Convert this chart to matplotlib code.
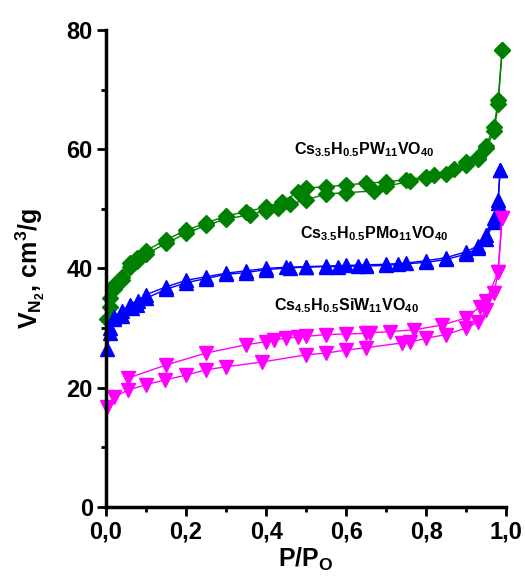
import numpy as np
import matplotlib
matplotlib.use('Agg')
import matplotlib.pyplot as plt
from matplotlib.ticker import MultipleLocator, FuncFormatter

plt.rcParams['font.family'] = ['Liberation Sans', 'DejaVu Sans']
plt.rcParams['font.weight'] = 'bold'
plt.rcParams['mathtext.fontset'] = 'custom'
plt.rcParams['mathtext.rm'] = 'Liberation Sans:bold'
plt.rcParams['mathtext.bf'] = 'Liberation Sans:bold'
plt.rcParams['mathtext.it'] = 'Liberation Sans:bold'
plt.rcParams['mathtext.default'] = 'bf'

# --------------------------------------------------------------------
#                       DATA
# --------------------------------------------------------------------

# Cs3.5H0.5PW11VO40 (green)
pw_ads_x = [0.003, 0.01, 0.02, 0.04, 0.06, 0.077, 0.10, 0.15, 0.20, 0.25, 0.30, 0.36, 0.40,
            0.43, 0.46, 0.50, 0.55, 0.60, 0.67, 0.70, 0.76, 0.80, 0.85, 0.90, 0.93, 0.95,
            0.97, 0.98, 0.99]
pw_ads_y = [31.5, 33.5, 36.5, 38.0, 40.2, 41.2, 42.4, 44.2, 45.9, 47.2, 48.3, 49.0, 49.7,
            50.2, 50.8, 51.5, 52.5, 52.7, 53.0, 53.8, 54.6, 55.2, 55.8, 57.3, 58.3, 60.2,
            63.0, 67.5, 76.6]
pw_des_x = [0.99, 0.98, 0.97, 0.95, 0.93, 0.90, 0.87, 0.82, 0.80, 0.75, 0.70, 0.65, 0.60,
            0.55, 0.50, 0.48, 0.44, 0.40, 0.35, 0.30, 0.25, 0.20, 0.15, 0.10, 0.077, 0.06,
            0.04, 0.02, 0.01]
pw_des_y = [76.6, 68.2, 63.8, 60.6, 58.7, 57.8, 56.6, 55.7, 55.3, 54.9, 54.5, 54.3, 54.0,
            53.7, 53.5, 52.8, 51.2, 50.3, 49.5, 48.8, 47.6, 46.4, 44.8, 43.0, 41.7, 40.9,
            38.5, 37.2, 35.0]

# Cs3.5H0.5PMo11VO40 (blue)
pmo_ads_x = [0.003, 0.01, 0.02, 0.04, 0.065, 0.077, 0.10, 0.15, 0.20, 0.25, 0.30, 0.35,
             0.40, 0.46, 0.50, 0.55, 0.58, 0.63, 0.65, 0.70, 0.73, 0.80, 0.85, 0.90, 0.93,
             0.95, 0.97, 0.98, 0.985]
pmo_ads_y = [26.5, 29.2, 31.5, 32.0, 33.3, 33.9, 35.0, 36.5, 37.6, 38.3, 39.0, 39.3,
             39.8, 40.1, 40.2, 40.3, 40.3, 40.4, 40.4, 40.5, 40.7, 41.0, 41.5, 42.4, 43.4,
             45.0, 47.8, 51.0, 56.5]
pmo_des_x = [0.985, 0.98, 0.97, 0.95, 0.93, 0.90, 0.85, 0.80, 0.75, 0.70, 0.65, 0.60,
             0.55, 0.50, 0.45, 0.40, 0.35, 0.30, 0.25, 0.20, 0.15, 0.10, 0.08, 0.06,
             0.04, 0.02, 0.01]
pmo_des_y = [56.5, 51.5, 48.5, 45.6, 43.8, 42.8, 41.8, 41.3, 40.9, 40.7, 40.6, 40.5,
             40.4, 40.3, 40.2, 40.0, 39.6, 39.2, 38.6, 38.0, 36.9, 35.6, 34.6, 33.9,
             32.8, 31.9, 30.0]

# Cs4.5H0.5SiW11VO40 (magenta)
siw_ads_x = [0.003, 0.02, 0.055, 0.10, 0.148, 0.20, 0.25, 0.30, 0.39, 0.50, 0.55, 0.60,
             0.65, 0.74, 0.76, 0.80, 0.85, 0.90, 0.93, 0.95, 0.97, 0.98, 0.99]
siw_ads_y = [16.8, 18.4, 19.6, 20.5, 21.3, 22.1, 23.0, 23.5, 24.3, 25.5, 25.8, 26.3,
             26.7, 27.5, 27.6, 28.3, 28.9, 30.0, 31.0, 33.0, 35.9, 39.4, 48.5]
siw_des_x = [0.99, 0.98, 0.95, 0.935, 0.90, 0.84, 0.77, 0.71, 0.66, 0.65, 0.60, 0.55,
             0.50, 0.48, 0.45, 0.42, 0.40, 0.35, 0.25, 0.15, 0.055]
siw_des_y = [48.5, 39.4, 34.5, 33.6, 31.7, 30.5, 29.7, 29.4, 29.2, 29.1, 29.0, 28.9,
             28.6, 28.5, 28.3, 28.0, 27.7, 27.2, 25.8, 23.8, 21.6]

labels = [r'Cs$_{3.5}$H$_{0.5}$PW$_{11}$VO$_{40}$',
          r'Cs$_{3.5}$H$_{0.5}$PMo$_{11}$VO$_{40}$',
          r'Cs$_{4.5}$H$_{0.5}$SiW$_{11}$VO$_{40}$']
label_pos = [(0.645, 59.9), (0.67, 45.8), (0.60, 33.7)]

# --------------------------------------------------------------------
#                       PLOT
# --------------------------------------------------------------------

fig = plt.figure(figsize=(5.25, 5.76), dpi=100)
ax = fig.add_axes([0.202, 0.12, 0.762, 0.828])

series = [
    (pw_ads_x, pw_ads_y, pw_des_x, pw_des_y, '#008000', 'D', 8.5),
    (pmo_ads_x, pmo_ads_y, pmo_des_x, pmo_des_y, '#0000ff', '^', 10),
    (siw_ads_x, siw_ads_y, siw_des_x, siw_des_y, '#ff00ff', 'v', 10),
]
for ax_x, ax_y, de_x, de_y, c, m, ms in series:
    ax.plot(ax_x, ax_y, color=c, marker=m, markersize=ms, linewidth=1, clip_on=False)
    ax.plot(de_x, de_y, color=c, marker=m, markersize=ms, linewidth=1, clip_on=False)

for text, (tx, ty) in zip(labels, label_pos):
    ax.text(tx, ty, text, ha='center', va='center', fontsize=11.5, fontweight='bold')

ax.set_xlim(0, 1.0)
ax.set_ylim(0, 80)
ax.spines['top'].set_visible(False)
ax.spines['right'].set_visible(False)
ax.spines['left'].set_linewidth(2.5)
ax.spines['bottom'].set_linewidth(2.5)

ax.xaxis.set_major_locator(MultipleLocator(0.2))
ax.xaxis.set_minor_locator(MultipleLocator(0.1))
ax.yaxis.set_major_locator(MultipleLocator(20))
ax.yaxis.set_minor_locator(MultipleLocator(10))
ax.xaxis.set_major_formatter(FuncFormatter(lambda v, p: f'{v:.1f}'.replace('.', ',')))
ax.tick_params(which='major', direction='out', length=6.5, width=2, labelsize=17, pad=3)
ax.tick_params(which='minor', direction='out', length=3.5, width=2)

ax.set_xlabel(r'P/P$_O$', fontsize=18, fontweight='bold', labelpad=2)
ax.set_ylabel(r'V$_{N_2}$, cm$^3$/g', fontsize=18, fontweight='bold', labelpad=14)

plt.savefig('out.png', dpi=100)
plt.close()
